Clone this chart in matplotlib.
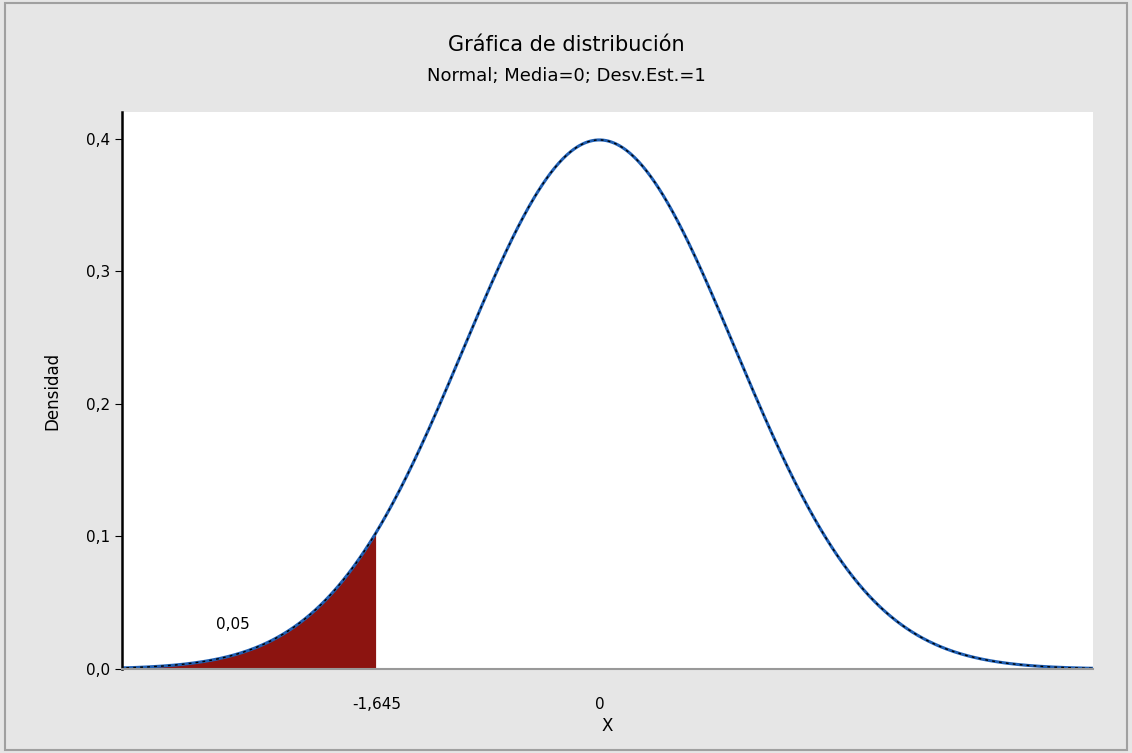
import numpy as np
import matplotlib.pyplot as plt
from matplotlib.patches import Rectangle

# datos de la distribucion
media = 0.0
desv = 1.0
x_critico = -1.645
area_cola = "0,05"
yticks = [0.0, 0.1, 0.2, 0.3, 0.4]
ytick_labels = ["0,0", "0,1", "0,2", "0,3", "0,4"]
xticks = [-1.645, 0.0]
xtick_labels = ["-1,645", "0"]

x = np.linspace(-4, 4, 801)
y = np.exp(-0.5 * ((x - media) / desv) ** 2) / (desv * np.sqrt(2 * np.pi))

fig = plt.figure(figsize=(11.32, 7.53), dpi=100, facecolor='#e6e6e6')
fig.patches.append(Rectangle((0.004, 0.004), 0.992, 0.992, transform=fig.transFigure,
                             fill=False, edgecolor='#a0a0a0', linewidth=1.5))
ax = fig.add_axes([122 / 1132, 1 - 669 / 753, (1093 - 122) / 1132, (669 - 112) / 753])
ax.set_facecolor('white')

mask = x <= x_critico
ax.fill_between(x[mask], 0, y[mask], color='#8c1410', linewidth=0)
ax.plot(x, y, color='#1f5fb4', linewidth=2.2)
ax.plot(x, y, color='black', linewidth=1.0, linestyle=(0, (2, 3)))

ax.text(-2.70, 0.028, area_cola, fontsize=11, ha='center', va='bottom')

ax.set_xlim(-3.52, 3.64)
ax.set_ylim(0, 0.42)
ax.set_xticks(xticks)
ax.set_xticklabels(xtick_labels, fontsize=11)
ax.set_yticks(yticks)
ax.set_yticklabels(ytick_labels, fontsize=11)
ax.tick_params(axis='x', length=0, pad=20)
ax.tick_params(axis='y', length=5, direction='out')
for s in ['top', 'right']:
    ax.spines[s].set_visible(False)
ax.spines['left'].set_linewidth(1.8)
ax.spines['bottom'].set_color('#999999')
ax.spines['bottom'].set_linewidth(1.5)

ax.set_xlabel("X", fontsize=12, labelpad=4)
ax.set_ylabel("Densidad", fontsize=12, labelpad=18)

fig.text(0.5, 1 - 45 / 753, "Gráfica de distribución", ha='center', va='center', fontsize=15)
fig.text(0.5, 1 - 76 / 753, "Normal; Media=0; Desv.Est.=1", ha='center', va='center', fontsize=13)

fig.savefig('out.png', dpi=100, facecolor=fig.get_facecolor())
